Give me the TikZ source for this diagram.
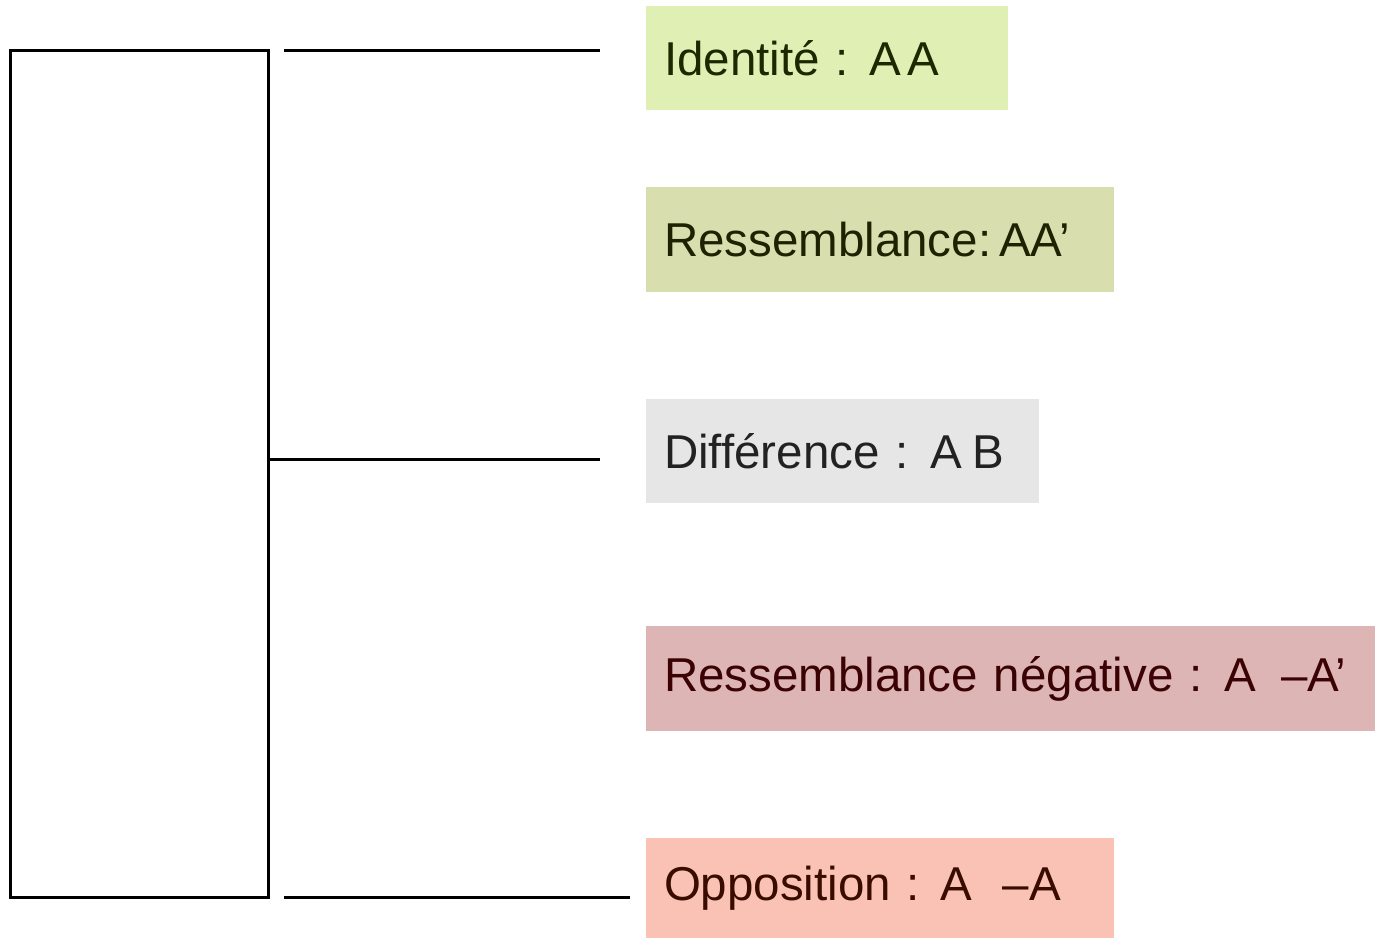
\documentclass[tikz,border=0pt]{standalone}
\usepackage{fontspec}
\setmainfont{Liberation Sans}
\definecolor{fgreen}{HTML}{E0F0B4}
\definecolor{folive}{HTML}{D9DEAE}
\definecolor{fgray}{HTML}{E6E6E6}
\definecolor{fpink}{HTML}{DDB5B5}
\definecolor{fsalmon}{HTML}{F9C2B4}
\definecolor{tgreen}{HTML}{1C2800}
\definecolor{tolive}{HTML}{1E2200}
\definecolor{tgray}{HTML}{222222}
\definecolor{tred}{HTML}{3A0202}
\definecolor{tbrown}{HTML}{3A0C00}
\begin{document}
\begin{tikzpicture}[x=1pt,y=-1pt,
  catbox/.style={anchor=north west, inner xsep=18pt, inner ysep=0pt, outer sep=0pt, align=left,
    font=\fontsize{47.5}{56}\selectfont, draw=none},
  link/.style={line width=3pt}]
\useasboundingbox (0,0) rectangle (1375,938);
\node[draw, line width=3pt, outer sep=0pt, minimum width=258pt, minimum height=847pt, anchor=north west, inner sep=0pt] (frame) at (10,50) {};
\node[catbox, fill=fgreen, text=tgreen, minimum width=362pt, minimum height=104pt, text width=326pt] (ident) at (646,6) {Identité :\hspace{21pt}A\hspace{6pt}A};
\node[catbox, fill=folive, text=tolive, minimum width=468pt, minimum height=105pt, text width=432pt] (ress) at (646,187) {Ressemblance:\,AA’};
\node[catbox, fill=fgray, text=tgray, minimum width=393pt, minimum height=104pt, text width=357pt] (diff) at (646,399) {Différence :\hspace{22pt}A\hspace{10pt}B};
\node[catbox, fill=fpink, text=tred, minimum width=729pt, minimum height=105pt, text width=693pt] (rneg) at (646,626) {Ressemblance négative :\hspace{22pt}A\hspace{25pt}–A’};
\node[catbox, fill=fsalmon, text=tbrown, minimum width=468pt, minimum height=100pt, text width=432pt] (oppo) at (646,838) {Opposition :\hspace{20pt}A\hspace{31pt}–A};
\coordinate (t1) at (284,50);
\coordinate (t2) at (600,50);
\coordinate (m1) at (frame.east |- 0,459);
\coordinate (m2) at (600,459);
\coordinate (b1) at (284,897);
\coordinate (b2) at (630,897);
\draw[link] (t1) -- (t2);
\draw[link] (m1) -- (m2);
\draw[link] (b1) -- (b2);
\end{tikzpicture}
\end{document}
